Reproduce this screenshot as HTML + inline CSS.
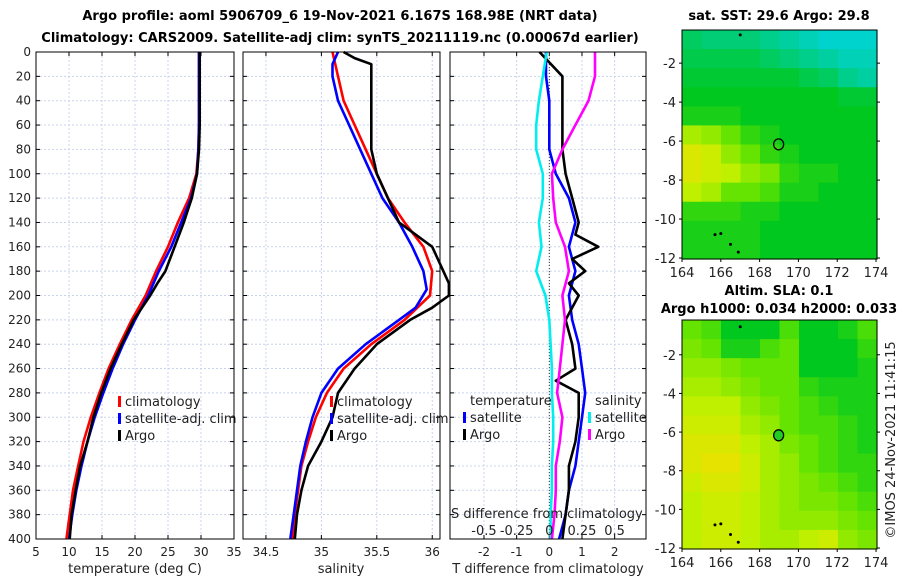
<!DOCTYPE html>
<html><head><meta charset="utf-8"><style>
body{margin:0;background:#fff;}
svg{display:block;font-family:"DejaVu Sans","Liberation Sans",sans-serif;}
</style></head><body>
<svg id="c" width="900" height="580" viewBox="0 0 900 580">
<text x="340" y="20" text-anchor="middle" font-size="13" font-weight="bold">Argo profile: aoml 5906709_6 19-Nov-2021 6.167S 168.98E (NRT data)</text>
<text x="340" y="42" text-anchor="middle" font-size="13" font-weight="bold">Climatology: CARS2009. Satellite-adj clim: synTS_20211119.nc (0.00067d earlier)</text>
<text x="779" y="20" text-anchor="middle" font-size="13" font-weight="bold">sat. SST: 29.6 Argo: 29.8</text>
<text x="779" y="295" text-anchor="middle" font-size="13" font-weight="bold">Altim. SLA: 0.1</text>
<text x="779" y="313" text-anchor="middle" font-size="13" font-weight="bold">Argo h1000: 0.034 h2000: 0.033</text>
<text transform="translate(895,440) rotate(-90)" text-anchor="middle" font-size="13" fill="#222">©IMOS 24-Nov-2021 11:41:15</text>
<g id="g"></g>
</svg>
<script>
// depth profile data
const depthClim=[0,20,40,60,80,100,120,140,160,180,200,220,240,260,280,300,320,340,360,380,400];
const tempClim=[29.7,29.7,29.7,29.7,29.6,29.3,28.2,26.5,25,23.2,21.6,19.5,17.7,16,14.6,13.3,12.2,11.4,10.6,10.1,9.6];
const tempSat=[29.7,29.7,29.7,29.7,29.6,29.4,28.5,27,25.5,23.6,22,20,18.2,16.6,15.2,13.9,12.8,11.9,11.1,10.5,10];
const depthArgoT=[0,20,40,60,80,100,120,140,160,180,190,200,220,240,260,280,300,320,340,360,380,400];
const tempArgo=[29.8,29.8,29.8,29.8,29.7,29.4,28.6,27.4,26,24.6,23.4,22.3,19.8,18,16.3,14.9,13.7,12.8,11.7,11,10.4,10.1];
const salClim=[35.1,35.15,35.2,35.3,35.4,35.5,35.6,35.75,35.92,36.0,35.98,35.75,35.45,35.2,35.05,34.95,34.88,34.82,34.79,34.76,34.74];
const depthSatS=[0,10,20,40,60,80,100,120,140,160,180,195,210,220,240,260,280,300,320,340,360,380,400];
const salSat=[35.15,35.1,35.1,35.15,35.25,35.35,35.45,35.55,35.7,35.82,35.92,35.95,35.85,35.7,35.4,35.15,35.0,34.92,34.86,34.81,34.78,34.75,34.72];
const depthArgoS=[0,5,10,20,40,60,80,100,120,140,150,160,170,180,190,200,210,220,240,260,280,300,320,340,360,380,400];
const salArgo=[35.2,35.3,35.45,35.45,35.45,35.45,35.45,35.5,35.6,35.7,35.85,36.0,36.05,36.1,36.15,36.15,36.0,35.8,35.5,35.3,35.15,35.1,35.0,34.88,34.82,34.78,34.76];
const tDiffSat=[-0.1,-0.1,0,0,0,0.2,0.6,0.8,0.6,0.8,0.6,0.7,0.9,1.0,1.1,1.0,0.9,0.8,0.6,0.5,0.3];
const depthDiffArgo=[0,20,40,60,80,100,120,140,150,160,170,180,190,200,220,240,260,270,280,300,320,340,360,380,400];
const tDiffArgo=[-0.3,0.4,0.4,0.4,0.4,0.5,0.7,0.9,0.8,1.5,0.7,1.1,0.6,0.9,0.5,0.7,0.8,0.2,0.9,0.9,0.8,0.6,0.6,0.5,0.4];
const sDiffSat=[-0.02,-0.05,-0.08,-0.1,-0.1,-0.05,-0.05,-0.08,-0.06,-0.1,-0.03,0,0.01,0.02,0.02,0.03,0.03,0.02,0.02,0.01,0.01];
const sDiffArgo=[0.35,0.35,0.3,0.2,0.1,0.02,0.03,0.05,0.12,0.15,0.1,0.12,0.1,0.08,0.06,0.1,0.08,0.05,0.05,0.04,0.02];
// ticks
const depthTicks=[0,20,40,60,80,100,120,140,160,180,200,220,240,260,280,300,320,340,360,380,400];
const tempTicks=[5,10,15,20,25,30,35];
const salTicks=[34.5,35,35.5,36];
const tdTicks=[-2,-1,0,1,2];
const sdTicks=[-0.5,-0.25,0,0.25,0.5];
const sdLabels=["-0.5","-0.25","0","0.25","0.5"];
const latTicks=[-2,-4,-6,-8,-10,-12];
const lonTicks=[164,166,168,170,172,174];
// map grids (normalized values, rows north->south, 10 lon columns)
const sstGrid=[
[.25,.2,.2,.2,.15,.1,.05,0,0,0],[.3,.3,.3,.3,.25,.2,.15,.1,.05,.05],[.35,.35,.35,.35,.35,.35,.3,.25,.15,.1],
[.4,.4,.4,.4,.4,.4,.4,.4,.35,.35],[.45,.45,.45,.4,.4,.4,.4,.4,.4,.4],[.75,.7,.6,.5,.45,.4,.4,.4,.4,.4],
[.9,.85,.7,.6,.5,.45,.4,.4,.4,.4],[.9,.85,.8,.7,.65,.5,.45,.45,.4,.4],[.8,.75,.6,.6,.55,.45,.45,.4,.4,.4],
[.5,.5,.5,.45,.45,.4,.4,.4,.4,.4],[.45,.45,.45,.45,.4,.4,.4,.4,.4,.4],[.45,.45,.45,.45,.4,.4,.4,.4,.4,.4]];
const slaGrid=[
[.6,.55,.4,.4,.4,.55,.4,.4,.45,.55],[.65,.6,.45,.45,.55,.6,.4,.4,.4,.5],[.7,.7,.65,.6,.6,.6,.4,.4,.4,.45],
[.75,.75,.7,.65,.6,.6,.5,.45,.45,.45],[.8,.8,.8,.7,.65,.6,.55,.5,.45,.45],[.85,.85,.85,.75,.7,.6,.55,.55,.5,.45],
[.9,.9,.9,.8,.75,.65,.6,.55,.5,.45],[.9,.95,.95,.85,.75,.7,.6,.55,.5,.5],[.85,.9,.9,.85,.75,.7,.65,.6,.55,.5],
[.8,.85,.85,.8,.75,.7,.65,.65,.6,.55],[.8,.85,.85,.8,.75,.7,.7,.7,.65,.6],[.8,.85,.85,.8,.75,.75,.8,.85,.7,.65]];
const argoLon=168.98, argoLat=-6.167;

const NS="http://www.w3.org/2000/svg";
const G=document.getElementById('g');
function mk(t,a,p){const e=document.createElementNS(NS,t);for(const k in a)e.setAttribute(k,a[k]);(p||G).appendChild(e);return e;}
const Y0=52,Y1=539;
const yD=d=>Y0+(Y1-Y0)*d/400;
function panel(name,x0,x1,xmin,xmax){
  const sx=v=>x0+(x1-x0)*(v-xmin)/(xmax-xmin);
  const g=mk('g',{});
  
  
  mk('rect',{x:x0,y:Y0,width:x1-x0,height:Y1-Y0,fill:'#fff'},g);
  return {sx,g,x0,x1};
}
function grid(P,ticks,f){
  depthTicks.forEach(d=>{mk('line',{x1:P.x0,x2:P.x1,y1:yD(d),y2:yD(d),stroke:'#c8d4ec','stroke-dasharray':'2,2','stroke-width':1},P.g);
    mk('line',{x1:P.x0,x2:P.x0+4,y1:yD(d),y2:yD(d),stroke:'#000'},P.g);mk('line',{x1:P.x1,x2:P.x1-4,y1:yD(d),y2:yD(d),stroke:'#000'},P.g);});
  ticks.forEach(t=>{const x=f(t);mk('line',{x1:x,x2:x,y1:Y0,y2:Y1,stroke:'#c8d4ec','stroke-dasharray':'2,2'},P.g);
    mk('line',{x1:x,x2:x,y1:Y1,y2:Y1-4,stroke:'#000'},P.g);mk('line',{x1:x,x2:x,y1:Y0,y2:Y0+4,stroke:'#000'},P.g);});
}
function line(P,xs,ds,f,col,name){
  const pts=xs.map((v,i)=>f(v).toFixed(1)+','+yD(ds[i]).toFixed(1)).join(' ');
  const e=mk('polyline',{points:pts,fill:'none',stroke:col,'stroke-width':2.6,'stroke-linejoin':'round'},P.g);
  
  
}
function frame(P){mk('rect',{x:P.x0,y:Y0,width:P.x1-P.x0,height:Y1-Y0,fill:'none',stroke:'#000','stroke-width':1},P.g);}
function txt(s,x,y,opt,p,name){const e=mk('text',Object.assign({x:x,y:y,'font-size':13,fill:'#222'},opt||{}),p);e.textContent=s;if(name){}return e;}
function legend(P,x,y,items){items.forEach((it,i)=>{mk('rect',{x:x,y:y+i*17-10,width:3,height:11,fill:it[1]},P.g);txt(it[0],x+7,y+i*17,{},P.g,'legend-entry');});}

// panel 1 temperature
const P1=panel('temperature-panel',36,234,5,35);
grid(P1,tempTicks,P1.sx);
depthTicks.forEach(d=>txt(String(d),31,yD(d)+4,{'text-anchor':'end','font-size':12},P1.g,'y-tick'));
tempTicks.forEach(t=>txt(String(t),P1.sx(t),556,{'text-anchor':'middle','font-size':12},P1.g,'x-tick'));
txt('temperature (deg C)',135,573,{'text-anchor':'middle'},P1.g,'x-axis-title');
line(P1,tempClim,depthClim,P1.sx,'#f00','climatology-line');
line(P1,tempSat,depthClim,P1.sx,'#00f','satellite-line');
line(P1,tempArgo,depthArgoT,P1.sx,'#000','argo-line');
legend(P1,118,406,[['climatology','#f00'],['satellite-adj. clim','#00f'],['Argo','#000']]);
frame(P1);

// panel 2 salinity
const P2=panel('salinity-panel',243,440,34.293,36.07);
grid(P2,salTicks,P2.sx);
salTicks.forEach(t=>txt(String(t),P2.sx(t),556,{'text-anchor':'middle','font-size':12},P2.g,'x-tick'));
txt('salinity',341,573,{'text-anchor':'middle'},P2.g,'x-axis-title');
line(P2,salClim,depthClim,P2.sx,'#f00','climatology-line');
line(P2,salSat,depthSatS,P2.sx,'#00f','satellite-line');
line(P2,salArgo,depthArgoS,P2.sx,'#000','argo-line');
legend(P2,330,406,[['climatology','#f00'],['satellite-adj. clim','#00f'],['Argo','#000']]);
frame(P2);

// panel 3 differences
const P3=panel('difference-panel',450,646,-3.04,2.96);
const sS=v=>P3.sx(v*4);
grid(P3,tdTicks,P3.sx);
mk('line',{x1:P3.sx(0),x2:P3.sx(0),y1:Y0,y2:Y1,stroke:'#333','stroke-dasharray':'1,2'},P3.g);
tdTicks.forEach(t=>txt(String(t),P3.sx(t),556,{'text-anchor':'middle','font-size':12},P3.g,'x-tick'));
txt('T difference from climatology',548,573,{'text-anchor':'middle'},P3.g,'x-axis-title');
line(P3,tDiffSat,depthClim,P3.sx,'#00f','t-satellite-line');
line(P3,tDiffArgo,depthDiffArgo,P3.sx,'#000','t-argo-line');
line(P3,sDiffSat,depthClim,sS,'#0ee','s-satellite-line');
line(P3,sDiffArgo,depthClim,sS,'#f0f','s-argo-line');
txt('S difference from climatology',451,518,{},P3.g,'s-axis-title');
sdTicks.forEach((t,i)=>txt(sdLabels[i],sS(t),535,{'text-anchor':'middle'},P3.g,'s-tick'));
txt('temperature',470,405,{},P3.g,'legend-title');
legend(P3,463,422,[['satellite','#00f'],['Argo','#000']]);
txt('salinity',595,405,{},P3.g,'legend-title');
legend(P3,588,422,[['satellite','#0ee'],['Argo','#f0f']]);
frame(P3);

// maps
const stops=[[0,[0,210,205]],[0.4,[0,200,30]],[0.6,[100,228,0]],[0.8,[190,240,0]],[1,[245,222,0]]];
function cmap(v){for(let i=1;i<stops.length;i++){if(v<=stops[i][0]){const a=stops[i-1],b=stops[i],t=(v-a[0])/(b[0]-a[0]);return 'rgb('+a[1].map((c,k)=>Math.round(c+(b[1][k]-c)*t)).join(',')+')';}}return 'rgb(245,222,0)';}
function map(name,gridv,top,bot,latTop,fillDot){
  const x0=682,x1=877,lonMin=164,lonMax=174.05;
  const latBot=-12.05;
  const sx=l=>x0+(x1-x0)*(l-lonMin)/(lonMax-lonMin);
  const sy=l=>top+(bot-top)*(latTop-l)/(latTop-latBot);
  const g=mk('g',{});
  
  
  const nr=gridv.length,nc=gridv[0].length,dl=(latTop-latBot)/nr,dn=(lonMax-lonMin)/nc;
  gridv.forEach((row,r)=>row.forEach((v,c)=>{
    const cell=mk('rect',{x:sx(lonMin+c*dn),y:sy(latTop-r*dl),width:(x1-x0)/nc+0.6,height:(bot-top)/nr+0.6,fill:cmap(v)},g);
    
    
  }));
  mk('rect',{x:x0,y:top,width:x1-x0,height:bot-top,fill:'none',stroke:'#000'},g);
  latTicks.forEach(t=>{const y=sy(t);mk('line',{x1:x0-3,x2:x0,y1:y,y2:y,stroke:'#000'},g);mk('line',{x1:x1,x2:x1+3,y1:y,y2:y,stroke:'#000'},g);txt(String(t),676,y+5,{'text-anchor':'end'},g,'lat-tick');});
  lonTicks.forEach(t=>{const x=sx(t);mk('line',{x1:x,x2:x,y1:bot,y2:bot+3,stroke:'#000'},g);txt(String(t),x,bot+18,{'text-anchor':'middle'},g,'lon-tick');});
  const m=mk('ellipse',{cx:sx(argoLon),cy:sy(argoLat),rx:5,ry:5.5,fill:fillDot,stroke:'#000','stroke-width':1.3},g);
  
  
  [[165.7,-10.8],[166,-10.75],[166.5,-11.3],[166.9,-11.7],[167,-0.55]].forEach(p=>mk('circle',{cx:sx(p[0]),cy:sy(p[1]),r:1.5,fill:'#000'},g));
}
map('sst-map',sstGrid,30,259,-0.3,'none');
map('sla-map',slaGrid,320,549,-0.2,'#22cc22');
</script>
</body></html>
